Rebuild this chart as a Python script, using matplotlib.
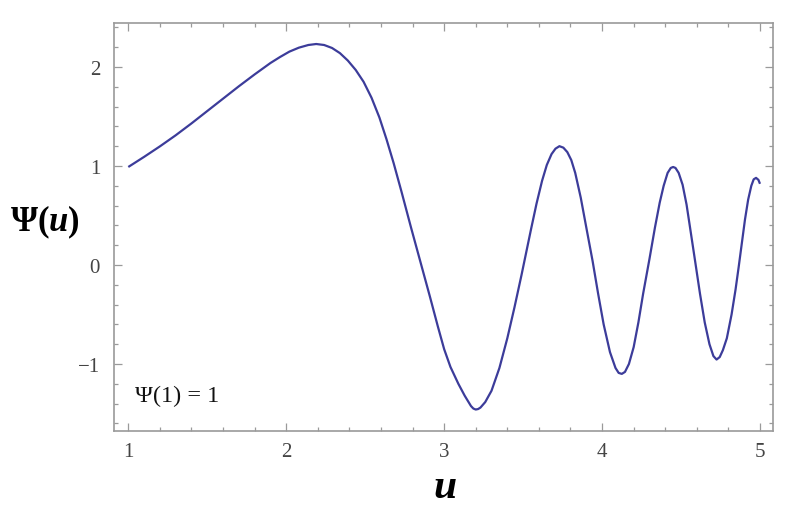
import numpy as np
import matplotlib.pyplot as plt
from matplotlib.ticker import MultipleLocator

# ==========================================================
# DATA
# ==========================================================

u_vals = [1.00, 1.10, 1.20, 1.30, 1.40, 1.50, 1.60, 1.70, 1.80, 1.90,
          1.96, 2.02, 2.08, 2.14, 2.19, 2.24, 2.29, 2.34, 2.39, 2.44,
          2.49, 2.54, 2.59, 2.635, 2.68, 2.73, 2.79, 2.85, 2.91, 2.96,
          3.00, 3.04, 3.09, 3.13, 3.17, 3.185, 3.20, 3.215, 3.23, 3.26,
          3.30, 3.35, 3.40, 3.445, 3.49, 3.52, 3.55, 3.585, 3.62, 3.65,
          3.68, 3.705, 3.73, 3.755, 3.78, 3.805, 3.83, 3.865, 3.90, 3.94,
          3.975, 4.01, 4.05, 4.085, 4.105, 4.125, 4.145, 4.17, 4.20, 4.23,
          4.26, 4.30, 4.335, 4.365, 4.39, 4.415, 4.435, 4.45, 4.465, 4.485,
          4.51, 4.535, 4.555, 4.59, 4.62, 4.65, 4.68, 4.705, 4.725, 4.745,
          4.765, 4.79, 4.82, 4.845, 4.865, 4.885, 4.905, 4.925, 4.945, 4.96,
          4.975, 4.99, 5.00]

psi_vals = [0.99, 1.092, 1.198, 1.31, 1.43, 1.555, 1.68, 1.805, 1.925, 2.04,
            2.10, 2.155, 2.195, 2.222, 2.232, 2.222, 2.192, 2.14, 2.065, 1.97,
            1.85, 1.69, 1.49, 1.27, 1.03, 0.74, 0.38, 0.03, -0.32, -0.62,
            -0.85, -1.03, -1.20, -1.32, -1.425, -1.45, -1.46, -1.455, -1.44, -1.385,
            -1.27, -1.04, -0.74, -0.43, -0.10, 0.13, 0.36, 0.62, 0.85, 1.01,
            1.12, 1.175, 1.20, 1.185, 1.14, 1.06, 0.93, 0.68, 0.38, 0.04,
            -0.29, -0.60, -0.88, -1.04, -1.09, -1.10, -1.08, -1.00, -0.83, -0.58,
            -0.29, 0.06, 0.38, 0.63, 0.80, 0.93, 0.98, 0.99, 0.98, 0.93,
            0.81, 0.61, 0.40, 0.03, -0.29, -0.58, -0.80, -0.92, -0.955, -0.93,
            -0.86, -0.74, -0.50, -0.25, -0.02, 0.22, 0.46, 0.66, 0.80, 0.865,
            0.88, 0.86, 0.82]

x_ticks = [1, 2, 3, 4, 5]
y_ticks = [-1, 0, 1, 2]

LINE_COLOR = "#3c3c9a"
FRAME_COLOR = "#9a9a9a"
LABEL_COLOR = "#444444"

# ==========================================================
# STYLE
# ==========================================================

plt.rcParams["font.family"] = ["Liberation Serif", "DejaVu Serif"]
plt.rcParams["mathtext.fontset"] = "custom"
plt.rcParams["mathtext.rm"] = "Liberation Serif:bold"
plt.rcParams["mathtext.it"] = "Liberation Serif:italic:bold"
plt.rcParams["mathtext.bf"] = "Liberation Serif:bold"

fig = plt.figure(figsize=(7.96, 5.10), dpi=100)
ax = fig.add_axes([0.1432, 0.1529, 0.8279, 0.8000])

# ==========================================================
# DRAW CURVE
# ==========================================================

ax.plot(u_vals, psi_vals, color=LINE_COLOR, linewidth=1.6,
        solid_joinstyle="round", solid_capstyle="butt")

# ==========================================================
# AXES SETTINGS
# ==========================================================

ax.set_xlim(0.9094, 5.0823)
ax.set_ylim(-1.677, 2.444)

ax.set_xticks(x_ticks)
ax.set_yticks(y_ticks)
ax.set_yticklabels(["\u22121", "0", "1", "2"])
ax.xaxis.set_minor_locator(MultipleLocator(0.2))
ax.yaxis.set_minor_locator(MultipleLocator(0.2))

ax.tick_params(which="both", direction="in", top=True, right=True,
               color=FRAME_COLOR, width=0.9)
ax.tick_params(which="major", length=6, labelsize=15,
               labelcolor=LABEL_COLOR)
ax.tick_params(axis="y", which="major", pad=10)
ax.tick_params(axis="x", which="major", pad=8)
ax.tick_params(which="minor", length=3)

for spine in ax.spines.values():
    spine.set_color(FRAME_COLOR)
    spine.set_linewidth(1.2)

ax.text(-0.105, 0.515, r"$\Psi(u)$", transform=ax.transAxes,
        fontsize=25, ha="center", va="center")
ax.text(0.502, -0.137, r"$u$", transform=ax.transAxes,
        fontsize=30, ha="center", va="center")

ax.text(1.044, -1.32, "\u03a8(1) = 1", fontsize=17.5, ha="left",
        va="center", color="#111111")

# ==========================================================
# SAVE
# ==========================================================

fig.savefig("out.png", dpi=100)
